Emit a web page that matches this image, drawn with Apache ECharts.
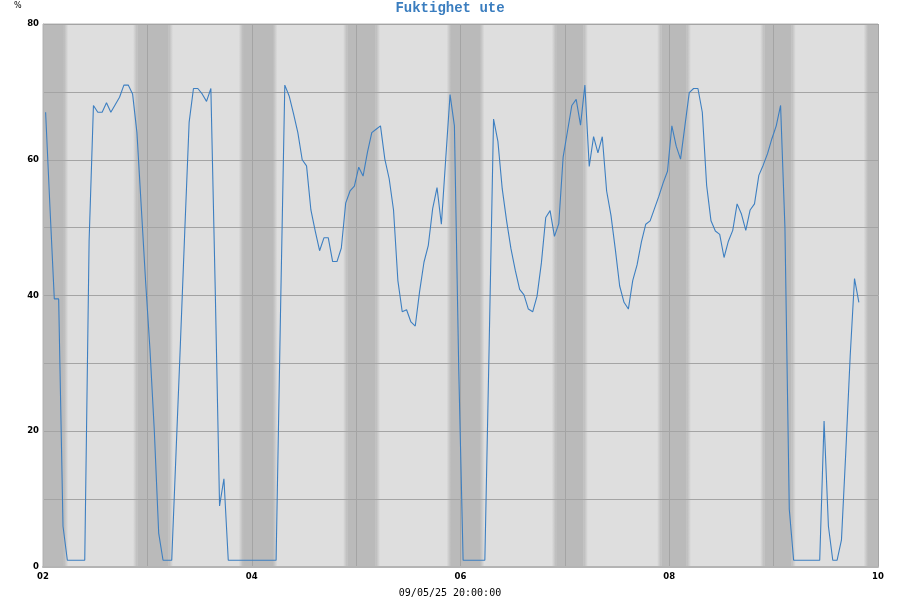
<!DOCTYPE html>
<html><head><meta charset="utf-8">
<script src="https://cdn.jsdelivr.net/npm/echarts@6/dist/echarts.min.js"></script>
<style>html,body{margin:0;padding:0;background:#fff}#c{width:900px;height:600px}</style>
</head><body><div id="c"></div>
<script>
// ---- data ----
const titleText = 'Fuktighet ute';
const footerText = '09/05/25 20:00:00';
const unitText = '%';
const axisStartDay = 2;          // x axis starts at day 02
const axisEndDay = 10;           // x axis ends at day 10
const firstSampleHour = 0.6;     // first sample, hours after axis start; samples are hourly
const humidity = [67,53,39.5,39.5,6,1,1,1,1,1,48,68,67,67,68.4,67,68.1,69.2,71,71,69.7,64,53,42,32,20,5,1,1,1,17,33,49.5,65.5,70.5,70.5,69.7,68.6,70.5,41,9,13,1,1,1,1,1,1,1,1,1,1,1,1,37,71,69.4,66.8,64,60,59.1,52.6,49.5,46.6,48.5,48.5,45,45,47,53.6,55.4,56.1,58.9,57.6,61.1,64,64.5,65,60.1,57.2,52.6,42.2,37.6,37.9,36.1,35.5,40.6,44.9,47.4,52.8,55.9,50.5,60.1,69.6,65,29,1,1,1,1,1,1,33,66,62.7,55.7,51,46.9,43.7,40.9,40.1,38,37.6,39.9,44.8,51.5,52.5,48.7,50.6,60.4,64.2,68,68.9,65.1,71,59,63.4,61,63.4,55.4,51.8,46.8,41.4,39,38,42.2,44.5,47.9,50.5,51,52.8,54.6,56.6,58.3,65,62,60.1,65,69.9,70.5,70.5,67,56.2,51,49.5,49,45.6,48,49.6,53.5,52,49.6,52.6,53.5,57.7,59.2,60.9,63.1,65,68,50,8.5,1,1,1,1,1,1,1,21.5,6,1,1,4,17,31,42.5,39];
// night shading (hours after axis start): start and end of dark band incl. 1h fade
const nightStart = [-3.3, 20.7, 45.0, 69.0, 92.8, 117.0, 141.2, 164.9, 188.7];
const nightEnd   = [5.8, 29.9, 53.9, 77.5, 101.5, 125.3, 149.0, 173.1, 197.8];
const xTickLabels = {2:'02', 4:'04', 6:'06', 8:'08', 10:'10'};
const yTickLabels = {0:'0', 20:'20', 40:'40', 60:'60', 80:'80'};

// ---- styles ----
const DARK = 'rgb(186,186,186)';
const DARK0 = 'rgba(186,186,186,0)';
const FADE = 1;
const toDay = h => axisStartDay + h / 24;
const totalH = (axisEndDay - axisStartDay) * 24;

const lineData = humidity.map((v, i) => [toDay(firstSampleHour + i), v]);

const areas = [];
for (let i = 0; i < nightStart.length; i++) {
  const s = nightStart[i], e = nightEnd[i];
  const segs = [[s, s + FADE, 'in'], [s + FADE, e - FADE, 'solid'], [e - FADE, e, 'out']];
  for (const [a, b, kind] of segs) {
    const a2 = Math.max(a, 0), b2 = Math.min(b, totalH);
    if (b2 <= a2) continue;
    let color = DARK;
    if (kind !== 'solid') {
      color = {type: 'linear', x: 0, y: 0, x2: 1, y2: 0,
        colorStops: kind === 'in'
          ? [{offset: 0, color: DARK0}, {offset: 1, color: DARK}]
          : [{offset: 0, color: DARK}, {offset: 1, color: DARK0}]};
    }
    areas.push([{xAxis: toDay(a2), itemStyle: {color: color}}, {xAxis: toDay(b2)}]);
  }
}

const chart = echarts.init(document.getElementById('c'), null, {renderer: 'canvas'});
chart.setOption({
  animation: false,
  backgroundColor: '#ffffff',
  title: [
    {text: titleText, left: 'center', top: -4,
     textStyle: {fontFamily: 'Liberation Mono', fontWeight: 'bold', fontSize: 14, color: '#3a7dbf'}},
    {text: footerText, left: 'center', top: 583,
     textStyle: {fontFamily: 'DejaVu Sans Mono', fontWeight: 'normal', fontSize: 10, color: '#000'}},
    {text: unitText, left: 9, top: -3,
     textStyle: {fontFamily: 'DejaVu Sans', fontWeight: 'normal', fontSize: 8, color: '#000'}}
  ],
  grid: {left: 43, right: 22, top: 24, bottom: 33, show: true,
         backgroundColor: '#dedede', borderColor: '#b4b4b4', borderWidth: 1},
  xAxis: {
    type: 'value', min: axisStartDay, max: axisEndDay, interval: 1, z: 3,
    axisLine: {show: true, lineStyle: {color: '#b4b4b4', width: 2}},
    axisTick: {show: false},
    splitLine: {show: true, lineStyle: {color: '#a4a4a4', width: 1}},
    axisLabel: {margin: 5, color: '#000', fontFamily: 'DejaVu Sans', fontWeight: 'bold', fontSize: 8.5,
      formatter: v => xTickLabels[Math.round(v)] || ''}
  },
  yAxis: {
    type: 'value', min: 0, max: 80, interval: 10, z: 3,
    axisLine: {show: true, lineStyle: {color: '#b4b4b4'}},
    axisTick: {show: false},
    splitLine: {show: true, lineStyle: {color: '#a4a4a4', width: 1}},
    axisLabel: {margin: 4, color: '#000', fontFamily: 'DejaVu Sans', fontWeight: 'bold', fontSize: 8.5,
      formatter: v => yTickLabels[Math.round(v)] || ''}
  },
  series: [
    {type: 'line', data: [], z: 1, silent: true,
     markArea: {silent: true, data: areas, itemStyle: {borderWidth: 0}}},
    {type: 'line', data: lineData, z: 5, symbol: 'none', silent: true,
     lineStyle: {color: '#3d7fc1', width: 1.1}}
  ]
});
</script></body></html>
